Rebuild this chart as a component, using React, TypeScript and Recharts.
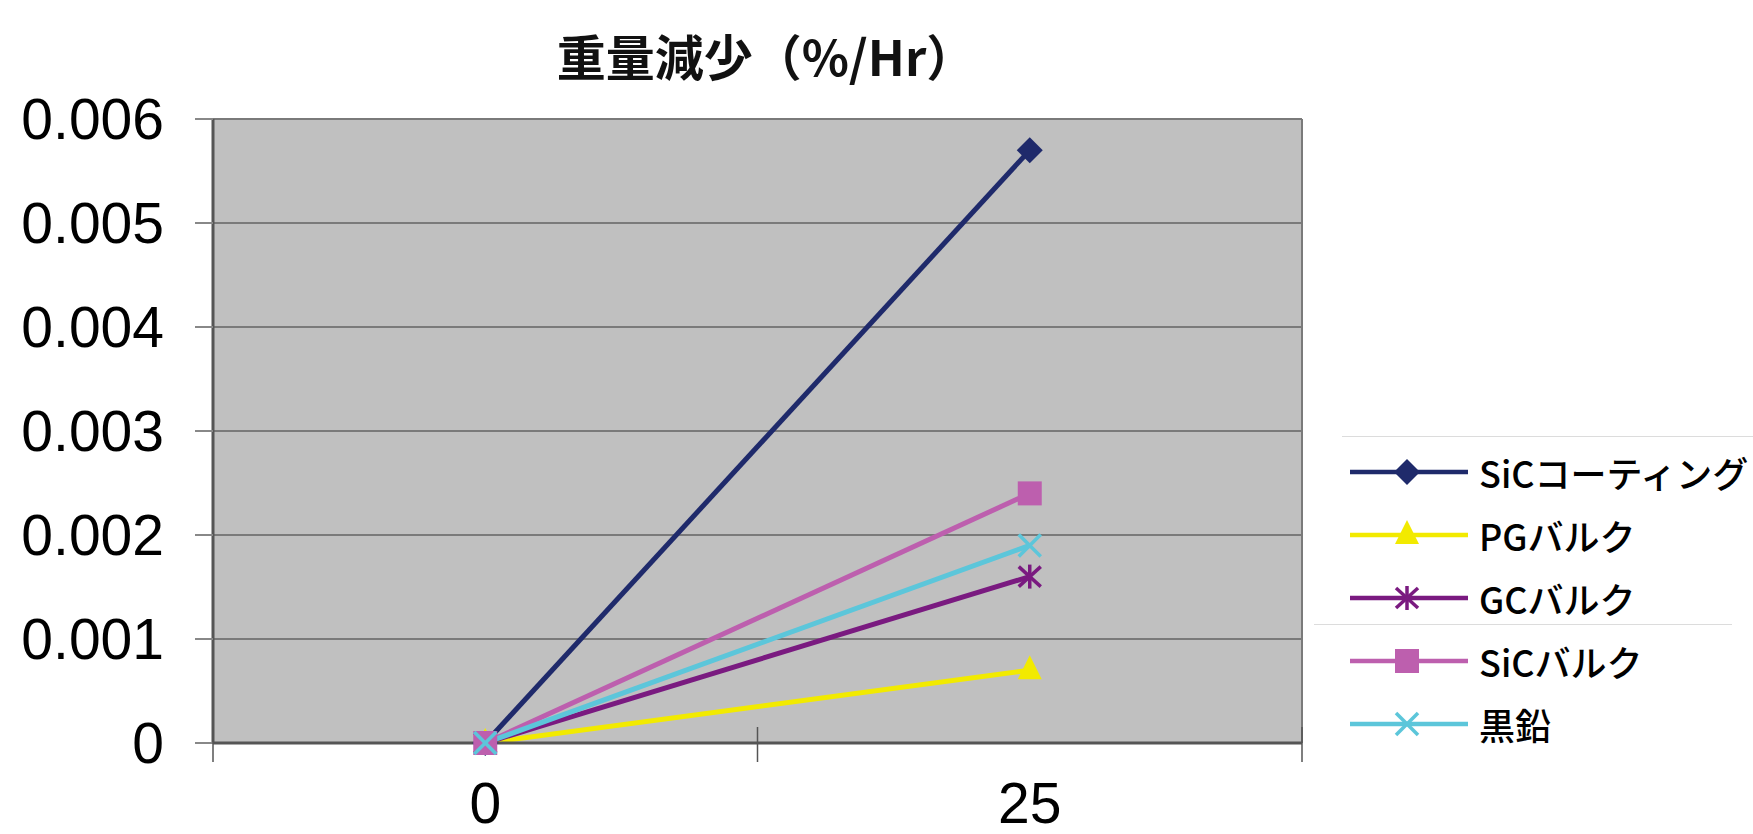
import React from "react";
import { LineChart, Line, XAxis, YAxis, CartesianGrid, ReferenceLine } from "recharts";

// x categories (hours) and weight loss per series (%/Hr)
const hours = [0, 25];
const sicCoating = [0, 0.0057];
const pgBulk = [0, 0.0007];
const gcBulk = [0, 0.0016];
const sicBulk = [0, 0.0024];
const graphite = [0, 0.0019];
const yTicks = [0, 0.001, 0.002, 0.003, 0.004, 0.005, 0.006];

const title = "重量減少（%/Hr）";

const series = [
  { key: "sicCoating", name: "SiCコーティング", color: "#1f2a6b", marker: "diamond", values: sicCoating },
  { key: "pgBulk", name: "PGバルク", color: "#f2ea00", marker: "triangle", values: pgBulk },
  { key: "gcBulk", name: "GCバルク", color: "#7a1a80", marker: "asterisk", values: gcBulk },
  { key: "sicBulk", name: "SiCバルク", color: "#bd5fae", marker: "square", values: sicBulk },
  { key: "graphite", name: "黒鉛", color: "#5cc6da", marker: "cross", values: graphite },
];

const data = hours.map((h, i) => {
  const row: any = { x: h };
  series.forEach((s) => (row[s.key] = s.values[i]));
  return row;
});

// category band edges: half a step either side of each category
const step = 25;
const xDomain = [hours[0] - step / 2, hours[hours.length - 1] + step / 2];
const xTicks: number[] = [];
hours.forEach((h, i) => {
  if (i === 0) xTicks.push(h - step / 2);
  xTicks.push(h);
  xTicks.push(h + step / 2);
});

const numFont = "'Liberation Sans', Arial, sans-serif";

function marker(type: string, cx: number, cy: number, color: string) {
  switch (type) {
    case "diamond":
      return <polygon points={`${cx},${cy - 13} ${cx + 13},${cy} ${cx},${cy + 13} ${cx - 13},${cy}`} fill={color} />;
    case "triangle":
      return <polygon points={`${cx},${cy - 15} ${cx + 12},${cy + 9} ${cx - 12},${cy + 9}`} fill={color} />;
    case "square":
      return <rect x={cx - 12} y={cy - 12} width={24} height={24} fill={color} />;
    case "asterisk":
      return (
        <g stroke={color} strokeWidth={3.5}>
          <line x1={cx} y1={cy - 12} x2={cx} y2={cy + 12} />
          <line x1={cx - 11} y1={cy - 10} x2={cx + 11} y2={cy + 10} />
          <line x1={cx - 11} y1={cy + 10} x2={cx + 11} y2={cy - 10} />
        </g>
      );
    case "cross":
      return (
        <g stroke={color} strokeWidth={3.5}>
          <line x1={cx - 11} y1={cy - 11} x2={cx + 11} y2={cy + 11} />
          <line x1={cx - 11} y1={cy + 11} x2={cx + 11} y2={cy - 11} />
        </g>
      );
  }
  return null;
}

function XTick(props: any) {
  const { x, y, payload } = props;
  if (hours.includes(payload.value)) {
    return (
      <text x={x} y={y + 80} textAnchor="middle" fontSize={57} fill="#000" fontFamily={numFont}>
        {payload.value}
      </text>
    );
  }
  return <line x1={x} y1={y - 16} x2={x} y2={y + 19} stroke="#555" strokeWidth={1.5} />;
}

export default function App() {
  return (
    <div style={{ position: "relative", width: 1753, height: 834, background: "#fff" }}>
      <style>{"body{margin:0}"}</style>
      <div style={{ position: "absolute", left: 466, top: 27, width: 600, textAlign: "center", fontSize: 49,
        lineHeight: "56px", fontWeight: 700, fontFamily: "'Noto Sans CJK JP', sans-serif", color: "#111" }}>
        {title}
      </div>
      <LineChart width={1753} height={834} data={data} margin={{ top: 119, right: 451, bottom: 0, left: 0 }}>
        <CartesianGrid vertical={false} fill="#c0c0c0" stroke="#7a7a7a" strokeWidth={2} fillOpacity={1} />
        <XAxis dataKey="x" type="number" domain={xDomain} ticks={xTicks} height={91} tickSize={0} tickMargin={0}
          tickLine={false} axisLine={{ stroke: "#555", strokeWidth: 3 }} tick={<XTick />} interval={0} />
        <YAxis type="number" domain={[0, 0.006]} ticks={yTicks} width={213} tickSize={18} tickMargin={31}
          interval={0} axisLine={{ stroke: "#555", strokeWidth: 3 }} tickLine={{ stroke: "#888", strokeWidth: 2 }}
          tickFormatter={(v: number) => (v === 0 ? "0" : v.toFixed(3))}
          tick={{ fill: "#000", fontSize: 57, fontFamily: numFont }} />
        <ReferenceLine x={xDomain[1]} stroke="#7a7a7a" strokeWidth={2} />
        {series.map((s) => (
          <Line key={s.key} dataKey={s.key} name={s.name} stroke={s.color} strokeWidth={5} isAnimationActive={false}
            dot={(p: any) => <g key={`${s.key}-${p.index}`}>{marker(s.marker, p.cx, p.cy, s.color)}</g>}
            activeDot={false} />
        ))}
      </LineChart>
      <div style={{ position: "absolute", left: 1342, top: 436, width: 411, height: 1, background: "#dcdcdc" }} />
      <div style={{ position: "absolute", left: 1314, top: 624, width: 418, height: 1, background: "#dcdcdc" }} />
      <div style={{ position: "absolute", left: 1350, top: 440 }}>
        {series.map((s) => (
          <div key={s.key} style={{ display: "flex", alignItems: "center", height: 63 }}>
            <svg width={118} height={40}>
              <line x1={0} y1={20} x2={118} y2={20} stroke={s.color} strokeWidth={4.5} />
              {marker(s.marker, 57, 20, s.color)}
            </svg>
            <span style={{ marginLeft: 11, fontSize: 36, fontWeight: 500, fontFamily: "'Noto Sans CJK JP', sans-serif",
              color: "#000", whiteSpace: "nowrap" }}>
              {s.name}
            </span>
          </div>
        ))}
      </div>
    </div>
  );
}
